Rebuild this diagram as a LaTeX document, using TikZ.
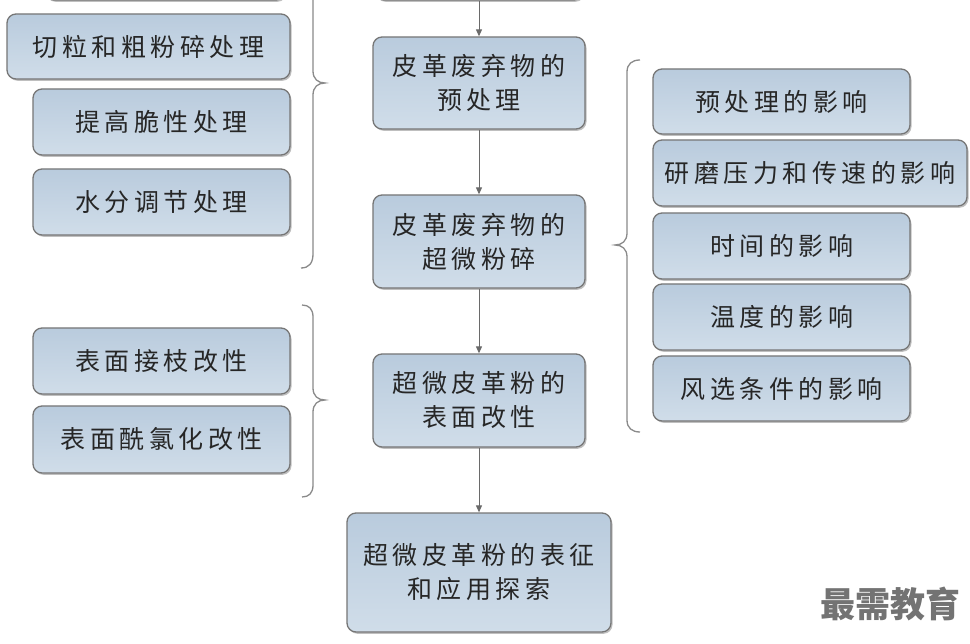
\documentclass[tikz,border=0pt]{standalone}
\usepackage{fontspec}
\newfontfamily\cjk[LetterSpace=18]{Noto Sans CJK SC}
\newfontfamily\cjkw{Noto Sans CJK SC}
\usetikzlibrary{shadows,arrows.meta}
\definecolor{boxtop}{HTML}{B9CBDD}
\definecolor{boxbot}{HTML}{D0DDE9}
\definecolor{boxline}{HTML}{767676}
\definecolor{lineg}{HTML}{6A6A6A}
\definecolor{braceg}{HTML}{8A8A8A}
\tikzset{
  box/.style={draw=boxline, line width=1.3pt, rounded corners=9pt,
    top color=boxtop, bottom color=boxbot, inner sep=0pt, align=center,
    font=\cjk\fontsize{25}{34}\selectfont, text=black!85,
    drop shadow={shadow xshift=1.5pt, shadow yshift=-1.8pt, fill=black, opacity=0.25}},
  arr/.style={draw=lineg, line width=1pt, -{Triangle[length=7pt,width=6pt]}},
  brace/.style={draw=braceg, line width=1.3pt}
}
\begin{document}
\begin{tikzpicture}[x=1pt,y=-1pt]
\useasboundingbox (0,0) rectangle (970,644);
\clip (0,0) rectangle (970,644);
\fill[white] (0,0) rectangle (970,644);
% cropped top boxes
\node[box, minimum width=240pt, minimum height=62pt] (topL) at (165,-31) {};
\node[box, minimum width=208pt, minimum height=92pt] (topC) at (479,-46) {};
% left group 1
\node[box, minimum width=283pt, minimum height=65pt] (cut) at (148.5,46.5) {切粒和粗粉碎处理};
\node[box, minimum width=257pt, minimum height=66pt] (brit) at (161.5,122) {提高脆性处理};
\node[box, minimum width=257pt, minimum height=66pt] (water) at (161.5,202) {水分调节处理};
% left group 2
\node[box, minimum width=257pt, minimum height=66pt] (graft) at (161.5,361) {表面接枝改性};
\node[box, minimum width=257pt, minimum height=67pt] (acyl) at (161.5,439.5) {表面酰氯化改性};
% central column
\node[box, minimum width=212pt, minimum height=92pt] (pre) at (479,83) {皮革废弃物的\\预处理};
\node[box, minimum width=212pt, minimum height=93pt] (mill) at (479,241.5) {皮革废弃物的\\超微粉碎};
\node[box, minimum width=212pt, minimum height=93pt] (surf) at (479,400.5) {超微皮革粉的\\表面改性};
\node[box, minimum width=264pt, minimum height=119pt] (char) at (479,572.5) {超微皮革粉的表征\\和应用探索};
% right group
\node[box, minimum width=257pt, minimum height=65pt] (r1) at (781.5,101.5) {预处理的影响};
\node[box, minimum width=314pt, minimum height=66pt] (r2) at (810,173) {研磨压力和传速的影响};
\node[box, minimum width=257pt, minimum height=66pt] (r3) at (781.5,246) {时间的影响};
\node[box, minimum width=257pt, minimum height=66pt] (r4) at (781.5,317) {温度的影响};
\node[box, minimum width=257pt, minimum height=65pt] (r5) at (781.5,388.5) {风选条件的影响};
% arrows
\draw[arr] (topC) -- (pre);
\draw[arr] (pre) -- (mill);
\draw[arr] (mill) -- (surf);
\draw[arr] (surf) -- (char);
% braces
\draw[brace] (313,-10) -- (313,71) .. controls (313,79) and (318,83) .. (325,83)
  .. controls (318,83) and (313,87) .. (313,95) -- (313,254)
  .. controls (313,263) and (309,268) .. (301,268);
\draw[brace] (302,305) .. controls (309,305) and (313,309) .. (313,317) -- (313,388)
  .. controls (313,396) and (318,400) .. (325,400)
  .. controls (318,400) and (313,404) .. (313,412) -- (313,485)
  .. controls (313,493) and (309,497) .. (302,497);
\draw[brace] (640,60) .. controls (632,60) and (627,64) .. (627,72) -- (627,233)
  .. controls (627,241) and (622,245) .. (615,245)
  .. controls (622,245) and (627,249) .. (627,257) -- (627,420)
  .. controls (627,428) and (632,432) .. (640,432);
% watermark
\node[font=\cjkw\bfseries\fontsize{35}{35}\selectfont, text=black!55] (wm) at (890,604) {最需教育};
\end{tikzpicture}
\end{document}
